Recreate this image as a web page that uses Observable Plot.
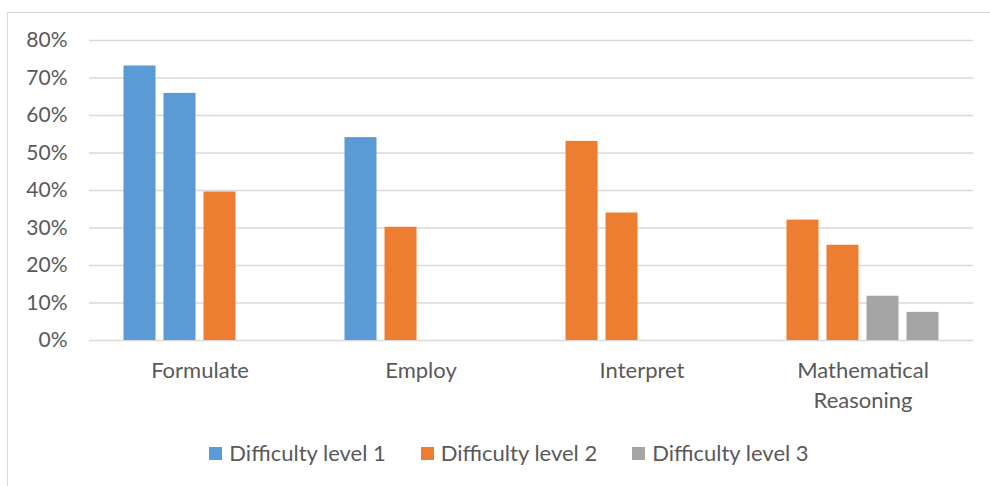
<!DOCTYPE html>
<html>
<head>
<meta charset="utf-8">
<script src="https://cdn.jsdelivr.net/npm/d3@7"></script>
<script src="https://cdn.jsdelivr.net/npm/@observablehq/plot@0.6"></script>
<style>
  html, body { margin: 0; padding: 0; background: #fff; overflow: hidden; }
  body { width: 990px; height: 486px; position: relative; font-family: Lato, "Open Sans", sans-serif; }
  #frame { position: absolute; left: 7px; top: 12px; width: 1010px; height: 500px; border: 1px solid #d9d9d9; box-sizing: border-box; }
  #chart { position: absolute; left: 0; top: 0; }
  #legend { position: absolute; top: 441px; left: 0; width: 1018px; display: flex; justify-content: center; gap: 35px; color: #595959; font-size: 22px; line-height: 24px; }
  .item { display: flex; align-items: center; gap: 7px; }
  .sw { width: 13px; height: 13px; display: inline-block; }
</style>
</head>
<body>
<div id="frame"></div>
<div id="chart"></div>
<div id="legend"></div>
<script>
const categories = ["Formulate", "Employ", "Interpret", "Mathematical\nReasoning"];
const levels = ["Difficulty level 1", "Difficulty level 2", "Difficulty level 3"];
const levelColors = ["#5B9BD5", "#ED7D31", "#A5A5A5"];
const slots = [0, 1, 2, 3];
const barCategory = ["Formulate", "Formulate", "Formulate", "Employ", "Employ", "Interpret", "Interpret",
  "Mathematical\nReasoning", "Mathematical\nReasoning", "Mathematical\nReasoning", "Mathematical\nReasoning"];
const barSlot = [0, 1, 2, 0, 1, 0, 1, 0, 1, 2, 3];
const barLevel = ["Difficulty level 1", "Difficulty level 1", "Difficulty level 2", "Difficulty level 1", "Difficulty level 2",
  "Difficulty level 2", "Difficulty level 2", "Difficulty level 2", "Difficulty level 2", "Difficulty level 3", "Difficulty level 3"];
const barValue = [73.2, 65.9, 39.6, 54.1, 30.2, 53.1, 34.0, 32.1, 25.4, 11.8, 7.5];
const yTicks = [0, 10, 20, 30, 40, 50, 60, 70, 80];

const bars = barValue.map((v, i) => ({category: barCategory[i], slot: barSlot[i], level: barLevel[i], value: v}));

const chart = Plot.plot({
  width: 990,
  height: 420,
  marginLeft: 88,
  marginRight: 16,
  marginTop: 40,
  marginBottom: 80,
  style: {fontFamily: "Lato, 'Open Sans', sans-serif", fontSize: "21px", color: "#595959", background: "transparent"},
  fx: {domain: categories, padding: 0, label: null},
  x: {domain: slots, paddingInner: 0.2, paddingOuter: 0.8625, round: false, axis: null},
  y: {domain: [0, 80], label: null},
  color: {domain: levels, range: levelColors},
  marks: [
    Plot.gridY(yTicks, {stroke: "#d9d9d9", strokeOpacity: 1, strokeWidth: 1.5}),
    Plot.barY(bars, {fx: "category", x: "slot", y: "value", fill: "level"}),
    Plot.axisY(yTicks, {tickFormat: d => d + "%", tickSize: 0, tickPadding: 22, fontSize: 21, label: null}),
    Plot.axisFx({anchor: "bottom", tickSize: 0, tickPadding: 17, fontSize: 22, lineHeight: 1.34, label: null})
  ]
});
document.getElementById("chart").appendChild(chart);

const legend = document.getElementById("legend");
levels.forEach((l, i) => {
  const item = document.createElement("div");
  item.className = "item";
  const sw = document.createElement("span");
  sw.className = "sw";
  sw.style.background = levelColors[i];
  const t = document.createElement("span");
  t.textContent = l;
  item.appendChild(sw);
  item.appendChild(t);
  legend.appendChild(item);
});
</script>
</body>
</html>
